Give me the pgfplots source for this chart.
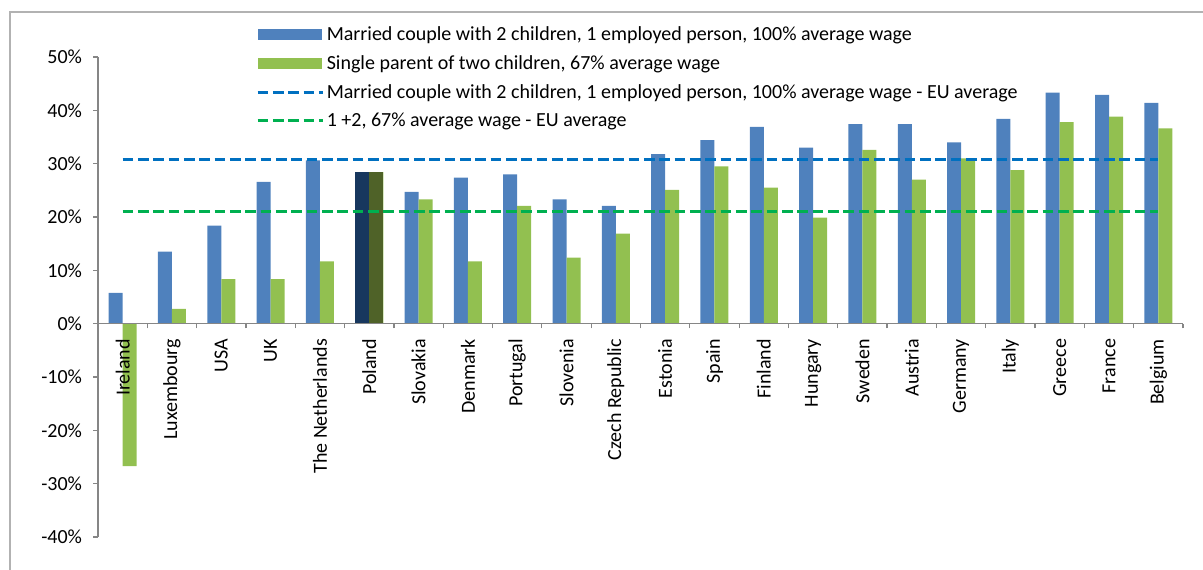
\documentclass[border=0pt]{standalone}
\usepackage{fontspec}
\setmainfont{Carlito}
\usepackage{pgfplots}
\usepackage{pgfplotstable}
\pgfplotsset{compat=1.18}

\definecolor{barblue}{HTML}{4F81BD}
\definecolor{bargreen}{HTML}{92C050}
\definecolor{darkblue}{HTML}{17375E}
\definecolor{darkgreen}{HTML}{4F6228}
\definecolor{lineblue}{HTML}{0070C0}
\definecolor{linegreen}{HTML}{00B050}
\definecolor{axisgray}{HTML}{868686}

% tax wedge by country, percent
\pgfplotstableread{
x blue green
0 5.75 -26.7
1 13.5 2.75
2 18.4 8.35
3 26.6 8.35
4 30.6 11.7
5 28.4 28.4
6 24.7 23.3
7 27.4 11.7
8 28.0 22.1
9 23.3 12.4
10 22.1 16.9
11 31.8 25.1
12 34.4 29.5
13 36.9 25.5
14 33.0 19.9
15 37.4 32.6
16 37.4 27.0
17 34.0 31.0
18 38.4 28.8
19 43.3 37.8
20 42.9 38.8
21 41.4 36.6
}\data

\pgfplotsset{
  boxleg/.style={legend image code/.code={\fill[#1] (0pt,-4.1pt) rectangle (48pt,4.1pt);}},
  dashleg/.style={legend image code/.code={\draw[#1, line width=2.25pt, dash pattern=on 8pt off 3.5pt] (0pt,0pt) -- (48.75pt,0pt);}},
}

\begin{document}
\begin{tikzpicture}
\begin{axis}[
  scale only axis,
  width=813.75pt, height=360pt,
  xmin=-0.5, xmax=21.5,
  ymin=-40, ymax=50,
  axis on top,
  axis x line=middle, axis y line=left,
  axis line style={draw=axisgray, line width=0.9pt, -},
  tick style={draw=axisgray, line width=0.9pt},
  tick align=outside,
  major tick length=3.5pt,
  xtick={-0.5,0.5,...,21.5},
  xticklabels={},
  extra x ticks={0,1,...,21},
  extra x tick labels={Ireland,Luxembourg,USA,UK,The Netherlands,Poland,Slovakia,Denmark,Portugal,Slovenia,Czech Republic,Estonia,Spain,Finland,Hungary,Sweden,Austria,Germany,Italy,Greece,France,Belgium},
  extra x tick style={major tick length=0pt,
    tick label style={rotate=90, anchor=east, xshift=-8pt, font=\fontsize{15}{17}\selectfont}},
  ytick={-40,-30,...,50},
  yticklabel={\pgfmathprintnumber{\tick}\%},
  /pgf/number format/assume math mode=true,
  yticklabel style={font=\fontsize{15}{17}\selectfont, xshift=-5pt},
  legend style={at={(0.1455,1.069)}, anchor=north west, draw=none, fill=none,
    font=\fontsize{15}{17}\selectfont, row sep=5.6pt, inner sep=0pt},
  legend cell align=left,
  clip=false,
]
\addplot[ybar, bar width=10.5pt, bar shift=-5.25pt, fill=barblue, draw=none, boxleg=barblue]
  table[x=x, y=blue] {\data};
\addlegendentry{Married couple with 2 children, 1 employed person, 100\% average wage}
\addplot[ybar, bar width=10.5pt, bar shift=5.25pt, fill=bargreen, draw=none, boxleg=bargreen]
  table[x=x, y=green] {\data};
\addlegendentry{Single parent of two children, 67\% average wage}
% Poland highlighted
\addplot[ybar, bar width=10.5pt, bar shift=-5.25pt, fill=darkblue, draw=none, forget plot]
  coordinates {(5,28.4)};
\addplot[ybar, bar width=10.5pt, bar shift=5.25pt, fill=darkgreen, draw=none, forget plot]
  coordinates {(5,28.4)};
% EU averages
\addplot[lineblue, line width=2.25pt, dash pattern=on 8pt off 3.5pt, dashleg=lineblue]
  coordinates {(0,30.8) (21,30.8)};
\addlegendentry{Married couple with 2 children, 1 employed person, 100\% average wage - EU average}
\addplot[linegreen, line width=2.25pt, dash pattern=on 8pt off 3.5pt, dashleg=linegreen]
  coordinates {(0,21.0) (21,21.0)};
\addlegendentry{1 +2, 67\% average wage - EU average}
\end{axis}
\draw[gray!60, line width=0.9pt] (-66pt,-24.75pt) -- (-66pt,393.75pt) -- (828.75pt,393.75pt);
\pgfresetboundingbox
\path (-73.5pt,-24.75pt) rectangle (828.75pt,402.75pt);
\end{tikzpicture}
\end{document}
